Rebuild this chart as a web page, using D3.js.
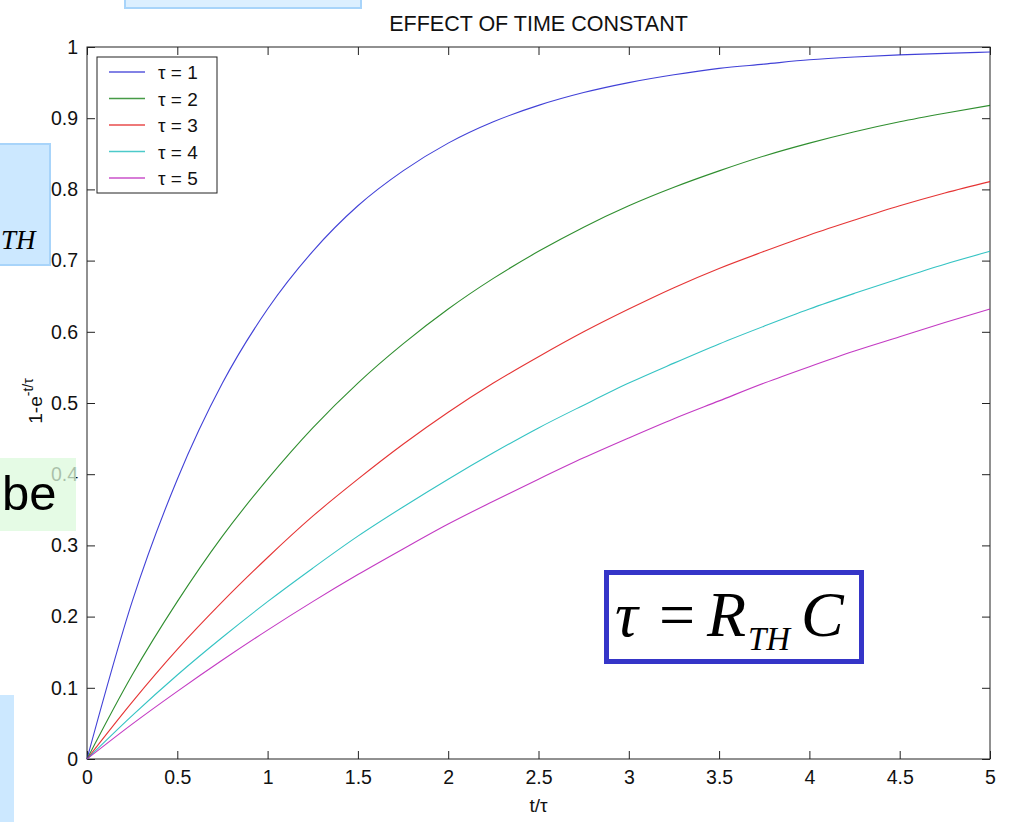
<!DOCTYPE html>
<html>
<head>
<meta charset="utf-8">
<script src="https://cdn.jsdelivr.net/npm/d3@7"></script>
<style>
  body { margin: 0; background: #fff; }
  svg { display: block; font-family: Arial, "Liberation Sans", sans-serif; }
  .axis path { stroke: #222; }
  .axis line { stroke: #222; }
  .axis text { font-size: 19.5px; fill: #111; font-family: Arial, "Liberation Sans", sans-serif; }
</style>
</head>
<body>
<svg id="chart" width="1010" height="822"></svg>
<script>
// sample points along t/tau
const tValues = [0, 0.25, 0.5, 0.75, 1, 1.25, 1.5, 1.75, 2, 2.25, 2.5,
                 2.75, 3, 3.25, 3.5, 3.75, 4, 4.25, 4.5, 4.75, 5];

// response values
const tau1 = [0, .221, .393, .528, .632, .713, .777, .826, .865, .895, .918,
              .936, .950, .961, .970, .976, .982, .986, .989, .991, .993];
const tau2 = [0, .118, .221, .313, .393, .465, .528, .583, .632, .675, .713,
              .747, .777, .803, .826, .847, .865, .881, .895, .907, .918];
const tau3 = [0, .080, .154, .221, .283, .341, .393, .442, .487, .528, .565,
              .600, .632, .662, .689, .713, .736, .757, .777, .795, .811];
const tau4 = [0, .061, .118, .171, .221, .268, .313, .354, .393, .430, .465,
              .497, .528, .556, .583, .608, .632, .654, .675, .695, .713];
const tau5 = [0, .049, .095, .139, .181, .221, .259, .295, .330, .362, .393,
              .423, .451, .478, .503, .528, .551, .573, .593, .613, .632];

const seriesNames = ['\u03c4 = 1', '\u03c4 = 2', '\u03c4 = 3', '\u03c4 = 4', '\u03c4 = 5'];
const seriesColors = ['#2020d0', '#0a7a0a', '#e01010', '#10b8b8', '#b818b8'];
const xTicks = [0, 0.5, 1, 1.5, 2, 2.5, 3, 3.5, 4, 4.5, 5];
const yTicks = [0, 0.1, 0.2, 0.3, 0.4, 0.5, 0.6, 0.7, 0.8, 0.9, 1];

const series = [tau1, tau2, tau3, tau4, tau5].map((vals, i) => ({
    name: seriesNames[i],
    color: seriesColors[i],
    points: vals.map((v, j) => [tValues[j], v])
}));

const svg = d3.select('#chart');
const plotL = 87, plotR = 990, plotT = 47, plotB = 759;

const x = d3.scaleLinear().domain([0, 5]).range([plotL, plotR]);
const y = d3.scaleLinear().domain([0, 1]).range([plotB, plotT]);

// slide decorations behind the plot
svg.append('rect').attr('x', 125).attr('y', -4).attr('width', 236).attr('height', 12)
    .attr('fill', '#dcefff').attr('stroke', '#a8d4fa').attr('stroke-width', 2);
svg.append('rect').attr('x', -4).attr('y', 144).attr('width', 54).attr('height', 121)
    .attr('fill', '#cce8ff').attr('stroke', '#a8d4fa').attr('stroke-width', 2);
svg.append('text').attr('x', 1).attr('y', 249)
    .style('font-family', '"Liberation Serif", "Times New Roman", serif')
    .style('font-style', 'italic').style('font-size', '27px').text('TH');
svg.append('rect').attr('x', 0).attr('y', 695).attr('width', 14).attr('height', 130)
    .attr('fill', '#cce8ff');

// frame
svg.append('rect').attr('x', plotL).attr('y', plotT)
    .attr('width', plotR - plotL).attr('height', plotB - plotT)
    .attr('fill', '#fff').attr('stroke', '#222').attr('stroke-width', 1);

const fmt = d => String(+d.toFixed(1));

svg.append('g').attr('class', 'axis')
    .attr('transform', `translate(0,${plotB})`)
    .call(d3.axisBottom(x).tickValues(xTicks).tickSize(-8).tickPadding(11).tickFormat(fmt))
    .call(g => g.select('.domain').remove());
svg.append('g').attr('class', 'axis')
    .attr('transform', `translate(0,${plotT})`)
    .call(d3.axisTop(x).tickValues(xTicks).tickSize(-8).tickFormat(''))
    .call(g => g.select('.domain').remove());
svg.append('g').attr('class', 'axis')
    .attr('transform', `translate(${plotL},0)`)
    .call(d3.axisLeft(y).tickValues(yTicks).tickSize(-8).tickPadding(9).tickFormat(fmt))
    .call(g => g.select('.domain').remove());
svg.append('g').attr('class', 'axis')
    .attr('transform', `translate(${plotR},0)`)
    .call(d3.axisRight(y).tickValues(yTicks).tickSize(-8).tickFormat(''))
    .call(g => g.select('.domain').remove());

// curves
const line = d3.line().x(d => x(d[0])).y(d => y(d[1])).curve(d3.curveMonotoneX);
svg.append('g').selectAll('path').data(series).join('path')
    .attr('d', d => line(d.points))
    .attr('fill', 'none')
    .attr('stroke', d => d.color)
    .attr('stroke-width', 1.1)
    .attr('stroke-opacity', 0.85);

// legend
const legend = svg.append('g');
legend.append('rect').attr('x', 97).attr('y', 57).attr('width', 120).attr('height', 136)
    .attr('fill', '#fff').attr('stroke', '#222').attr('stroke-width', 1);
series.forEach((s, i) => {
    const ly = 72 + i * 26.5;
    legend.append('line').attr('x1', 109).attr('x2', 145).attr('y1', ly).attr('y2', ly)
        .attr('stroke', s.color).attr('stroke-width', 1.3).attr('stroke-opacity', 0.75);
    legend.append('text').attr('x', 158).attr('y', ly + 7)
        .style('font-size', '19px').attr('fill', '#111').text(s.name);
});

// title and axis labels
svg.append('text').attr('x', (plotL + plotR) / 2).attr('y', 31).attr('text-anchor', 'middle')
    .style('font-size', '21.5px').attr('fill', '#111')
    .text('EFFECT OF TIME CONSTANT');
svg.append('text').attr('x', (plotL + plotR) / 2).attr('y', 812).attr('text-anchor', 'middle')
    .style('font-size', '19px').attr('fill', '#111').text('t/\u03c4');

const yl = svg.append('text').attr('transform', 'translate(42,401) rotate(-90)')
    .attr('text-anchor', 'middle').style('font-size', '19px').attr('fill', '#111');
yl.append('tspan').text('1-e');
yl.append('tspan').attr('dy', -9).style('font-size', '14px').text('-t/\u03c4');

// green "be" note over the 0.4 label
svg.append('rect').attr('x', 0).attr('y', 458).attr('width', 76).attr('height', 73)
    .attr('fill', '#dcf9dc').attr('fill-opacity', 0.75);
svg.append('text').attr('x', 2).attr('y', 510)
    .style('font-size', '49px').attr('fill', '#000').text('be');

// tau = R_TH C box
svg.append('rect').attr('x', 606.5).attr('y', 572.5).attr('width', 255).attr('height', 89)
    .attr('fill', '#fff').attr('stroke', '#3535c8').attr('stroke-width', 5);
const eq = svg.append('g')
    .style('font-family', '"Liberation Serif", "Times New Roman", serif')
    .attr('fill', '#000');
eq.append('text').attr('x', 615).attr('y', 636).style('font-size', '64px')
    .style('font-style', 'italic').text('\u03c4');
eq.append('text').attr('x', 659).attr('y', 636).style('font-size', '64px').text('=');
eq.append('text').attr('x', 707).attr('y', 636).style('font-size', '64px')
    .style('font-style', 'italic').text('R');
eq.append('text').attr('x', 748).attr('y', 650).style('font-size', '33px')
    .style('font-style', 'italic').text('TH');
eq.append('text').attr('x', 801).attr('y', 636).style('font-size', '64px')
    .style('font-style', 'italic').text('C');
</script>
</body>
</html>
